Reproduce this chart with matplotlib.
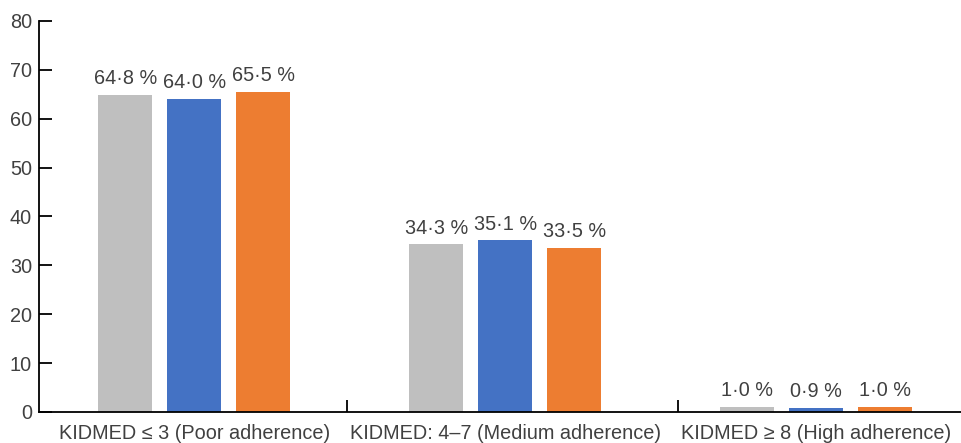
import numpy as np
import matplotlib
matplotlib.use('Agg')
import matplotlib.pyplot as plt

plt.rcParams['font.family'] = ['Liberation Sans', 'DejaVu Sans']

# KIDMED adherence categories and the three groups (percent of children)
categories = ['KIDMED \u2264 3 (Poor adherence)',
              'KIDMED: 4\u20137 (Medium adherence)',
              'KIDMED \u2265 8 (High adherence)']
group_grey = [64.8, 34.3, 1.0]
group_blue = [64.0, 35.1, 0.9]
group_orange = [65.5, 33.5, 1.0]

colors = ['#BFBFBF', '#4472C4', '#ED7D31']
text_color = '#404040'
fsize = 14.3

fig = plt.figure(figsize=(9.61, 4.43), dpi=100)
ax = fig.add_axes([0.0406, 0.070, 0.9594, 0.883])

x = np.arange(len(categories))
width = 0.174
step = 0.222
for i, (vals, c) in enumerate(zip([group_grey, group_blue, group_orange], colors)):
    pos = x + (i - 1) * step
    ax.bar(pos, vals, width=width, color=c, zorder=2)
    for px, v in zip(pos, vals):
        label = f'{v:.1f} %'.replace('.', '\u00b7')
        ax.text(px, v + 2.2, label, ha='center', va='baseline',
                fontsize=fsize, color=text_color)

ax.set_xlim(-0.5, 2.466)
ax.set_ylim(0, 80)
ax.set_yticks(np.arange(0, 81, 10))

# category separators on the x axis
ax.set_xticks([0.492, 1.556])
ax.set_xticklabels([])
for xi, name in zip(x, categories):
    ax.text(xi, -5.6, name, ha='center', va='baseline', fontsize=fsize,
            color=text_color, clip_on=False)

for s in ['top', 'right']:
    ax.spines[s].set_visible(False)
for s in ['left', 'bottom']:
    ax.spines[s].set_linewidth(1.3)
    ax.spines[s].set_color('black')

ax.tick_params(axis='both', direction='in', length=9, width=1.3,
               labelsize=fsize, labelcolor=text_color)
ax.tick_params(axis='y', pad=5)

fig.savefig('out.png', dpi=100)
